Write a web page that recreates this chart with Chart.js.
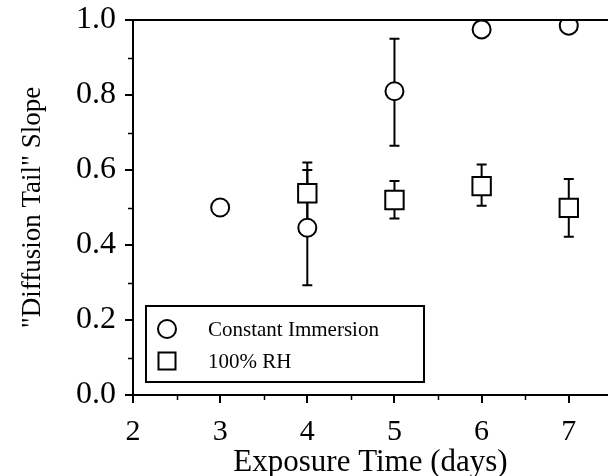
<!DOCTYPE html>
<html><head><meta charset="utf-8">
<script src="https://cdn.jsdelivr.net/npm/chart.js@4/dist/chart.umd.min.js"></script>
<style>html,body{margin:0;padding:0;background:#fff}#wrap{width:608px;height:476px}</style>
</head><body><div id="wrap"><canvas id="c" width="608" height="476"></canvas></div>
<script>
const xTicks = [2, 3, 4, 5, 6, 7];
const yTicks = [0, 0.2, 0.4, 0.6, 0.8, 1.0];
const immersionX = [3, 4, 5, 6, 7];
const immersionY = [0.50, 0.446, 0.81, 0.975, 0.985];
const immersionErrLow = [null, 0.293, 0.665, null, null];
const immersionErrHigh = [null, 0.600, 0.950, null, null];
const rhX = [4, 5, 6, 7];
const rhY = [0.538, 0.52, 0.557, 0.499];
const rhErrLow = [0.46, 0.471, 0.505, 0.422];
const rhErrHigh = [0.62, 0.571, 0.615, 0.576];
const seriesNames = ["Constant Immersion", "100% RH"];

const SERIF = '"Liberation Serif", "DejaVu Serif", serif';
Chart.defaults.color = '#000';
Chart.defaults.font.family = SERIF;

const errorBars = {
  id: 'errorBars',
  beforeDatasetsDraw(chart) {
    const {ctx, scales: {x, y}} = chart;
    ctx.save();
    ctx.strokeStyle = '#000';
    ctx.lineWidth = 2;
    chart.data.datasets.forEach(ds => {
      ds.data.forEach((p, i) => {
        if (ds.errLow[i] == null) return;
        const px = x.getPixelForValue(p.x);
        const yl = y.getPixelForValue(ds.errLow[i]);
        const yh = y.getPixelForValue(ds.errHigh[i]);
        ctx.beginPath();
        ctx.moveTo(px, yl); ctx.lineTo(px, yh);
        ctx.moveTo(px - 5, yl); ctx.lineTo(px + 5, yl);
        ctx.moveTo(px - 5, yh); ctx.lineTo(px + 5, yh);
        ctx.stroke();
      });
    });
    ctx.restore();
  }
};

const frame = {
  id: 'frame',
  afterDraw(chart) {
    const {ctx, chartArea: a, scales: {x, y}} = chart;
    ctx.save();
    ctx.strokeStyle = '#000';
    ctx.lineWidth = 2;
    ctx.beginPath();
    ctx.moveTo(a.left, a.top); ctx.lineTo(a.right, a.top);
    ctx.stroke();
    ctx.lineWidth = 1.5;
    ctx.beginPath();
    for (let v = 0.1; v < 1; v += 0.2) {
      const py = Math.round(y.getPixelForValue(v)) + 0.5;
      ctx.moveTo(a.left - 5, py); ctx.lineTo(a.left, py);
    }
    for (let v = 2.5; v < x.max; v += 1) {
      const px = Math.round(x.getPixelForValue(v)) + 0.5;
      ctx.moveTo(px, a.bottom); ctx.lineTo(px, a.bottom + 5);
    }
    ctx.stroke();
    const lx = a.left + 13, ly = a.bottom - 89, lw = 278, lh = 76;
    ctx.lineWidth = 2;
    ctx.fillStyle = '#fff';
    ctx.fillRect(lx, ly, lw, lh);
    ctx.strokeRect(lx, ly, lw, lh);
    ctx.fillStyle = '#000';
    ctx.font = '21px ' + SERIF;
    ctx.textBaseline = 'middle';
    const r1 = ly + 23, r2 = ly + 55, sx = lx + 21;
    ctx.beginPath(); ctx.arc(sx, r1, 9, 0, Math.PI * 2); ctx.stroke();
    ctx.strokeRect(sx - 8.5, r2 - 8.5, 17, 17);
    ctx.fillText(seriesNames[0], lx + 62, r1 + 1);
    ctx.fillText(seriesNames[1], lx + 62, r2 + 1);
    ctx.restore();
  }
};

new Chart(document.getElementById('c'), {
  type: 'scatter',
  data: {
    datasets: [
      {
        label: seriesNames[0],
        data: immersionX.map((v, i) => ({x: v, y: immersionY[i]})),
        errLow: immersionErrLow, errHigh: immersionErrHigh,
        pointStyle: 'circle', pointRadius: 9, pointHoverRadius: 9,
        backgroundColor: '#fff', borderColor: '#000', borderWidth: 2, clip: 0
      },
      {
        label: seriesNames[1],
        data: rhX.map((v, i) => ({x: v, y: rhY[i]})),
        errLow: rhErrLow, errHigh: rhErrHigh,
        pointStyle: 'rect', pointRadius: 13, pointHoverRadius: 13,
        backgroundColor: '#fff', borderColor: '#000', borderWidth: 2, clip: 0
      }
    ]
  },
  options: {
    responsive: false, animation: false,
    layout: {autoPadding: false, padding: {top: 20, right: 0, left: 0, bottom: 0}},
    plugins: {legend: {display: false}, tooltip: {enabled: false}},
    scales: {
      x: {
        type: 'linear', min: 2, max: 7.45,
        afterBuildTicks: s => { s.ticks = xTicks.map(v => ({value: v})); },
        afterFit: s => { s.height = 81; s.paddingRight = 0; s.paddingLeft = 0; },
        grid: {drawOnChartArea: false, tickLength: 8, color: '#000', lineWidth: 2},
        border: {color: '#000', width: 2},
        ticks: {font: {size: 30, family: SERIF}, padding: 11, color: '#000', maxRotation: 0},
        title: {display: true, text: 'Exposure Time (days)', font: {size: 31, family: SERIF}, padding: {top: 0, bottom: -5}, color: '#000'}
      },
      y: {
        type: 'linear', min: 0, max: 1.0,
        afterBuildTicks: s => { s.ticks = yTicks.map(v => ({value: v})); },
        afterFit: s => { s.width = 133; s.paddingTop = 0; s.paddingBottom = 0; },
        grid: {drawOnChartArea: false, tickLength: 8, color: '#000', lineWidth: 2},
        border: {color: '#000', width: 2},
        ticks: {font: {size: 32, family: SERIF}, padding: 9, color: '#000', callback: v => Number(v).toFixed(1)},
        title: {display: true, text: '"Diffusion Tail" Slope', font: {size: 27, family: SERIF}, padding: {top: 17, bottom: 0}, color: '#000'}
      }
    }
  },
  plugins: [errorBars, frame]
});
</script></body></html>
